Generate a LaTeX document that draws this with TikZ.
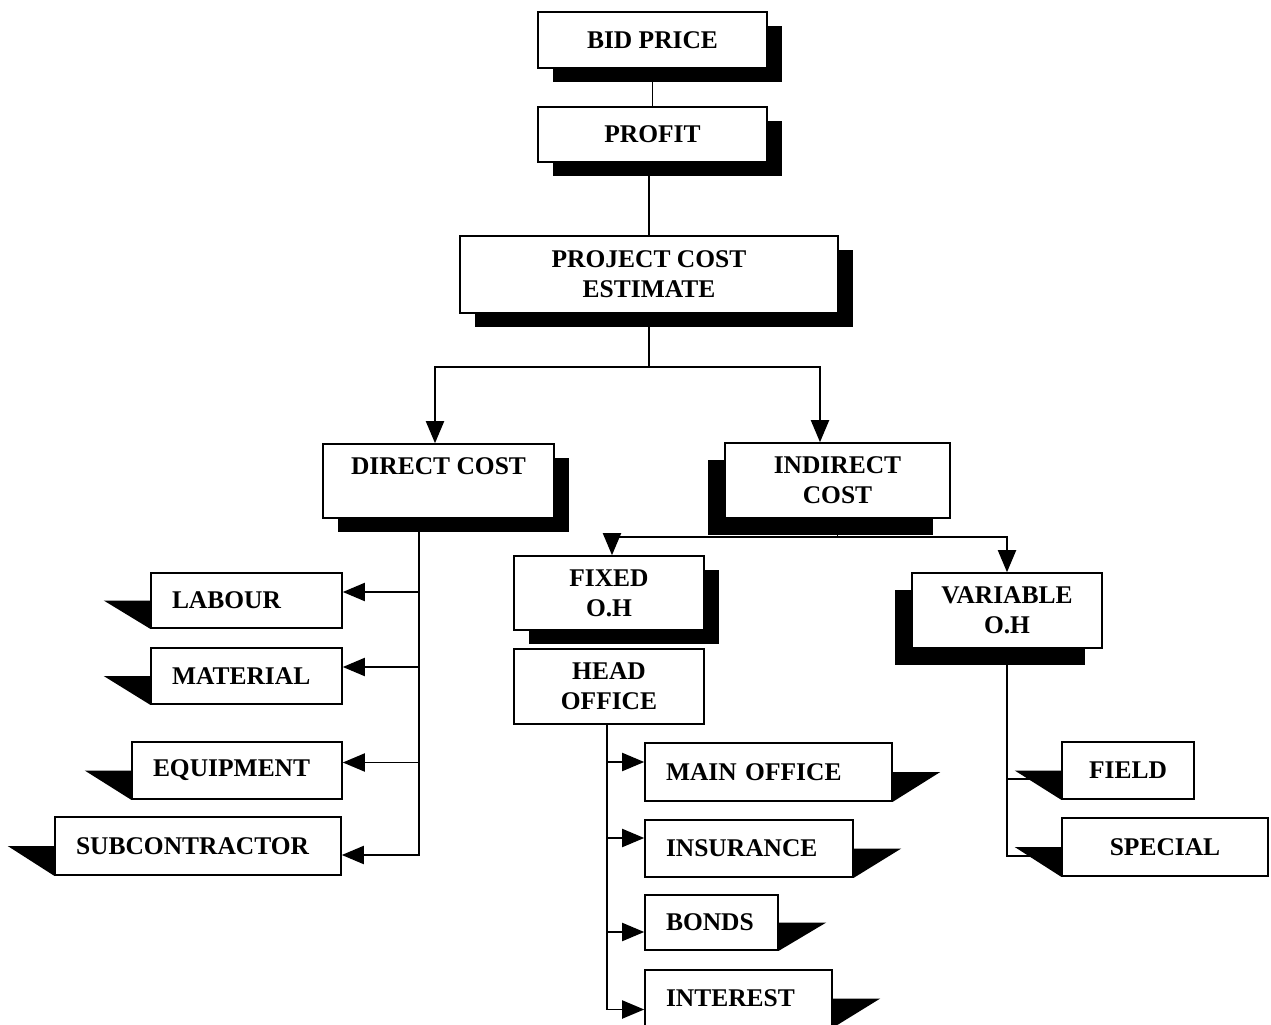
\documentclass[tikz,border=0pt]{standalone}
\usepackage{fontspec}
\setmainfont{Liberation Serif}
\usetikzlibrary{arrows.meta, shadows, backgrounds}

\begin{document}
\begin{tikzpicture}[
    box/.style={draw, line width=0.9pt, fill=white, align=center, inner sep=0pt,
      font=\bfseries\fontsize{14.5}{17}\selectfont},
    shadowr/.style={general shadow={fill=black, shadow xshift=0.3cm, shadow yshift=-0.28cm}},
    shadowl/.style={general shadow={fill=black, shadow xshift=-0.34cm, shadow yshift=-0.34cm}},
    leaf/.style={box, align=left, inner xsep=0.42cm},
    arr/.style={line width=1.1pt, -{Triangle[length=0.44cm, width=0.36cm]}},
    link/.style={line width=1.1pt}
  ]
  \useasboundingbox (0,0) rectangle (25.42,20.48);

  % top of the chart
  \node[box, shadowr, minimum width=4.58cm, minimum height=1.12cm] (bid) at (13.05,19.68) {BID PRICE};
  \node[box, shadowr, minimum width=4.58cm, minimum height=1.10cm] (profit) at (13.05,17.79) {PROFIT};
  \node[box, shadowr, minimum width=7.56cm, minimum height=1.54cm] (pce) at (12.98,14.99) {PROJECT COST\\ESTIMATE};

  % cost groups
  \node[box, shadowr, minimum width=4.62cm, minimum height=1.48cm] (direct) at (8.77,10.86) {DIRECT COST\\ \mbox{}};
  \node[box, shadowl, minimum width=4.5cm, minimum height=1.5cm] (indirect) at (16.75,10.87) {INDIRECT\\COST};
  \node[box, shadowr, minimum width=3.8cm, minimum height=1.48cm] (fixed) at (12.18,8.62) {FIXED\\O.H};
  \node[box, minimum width=3.8cm, minimum height=1.5cm] (head) at (12.18,6.75) {HEAD\\OFFICE};
  \node[box, shadowl, minimum width=3.8cm, minimum height=1.5cm] (variable) at (20.14,8.27) {VARIABLE\\O.H};

  % direct cost items
  \node[leaf, text width=2.98cm, minimum height=1.1cm] (labour) at (4.93,8.47) {LABOUR};
  \node[leaf, text width=2.98cm, minimum height=1.12cm] (material) at (4.93,6.96) {MATERIAL};
  \node[leaf, text width=3.36cm, minimum height=1.14cm] (equipment) at (4.74,5.07) {EQUIPMENT};
  \node[leaf, text width=4.88cm, minimum height=1.16cm] (subcon) at (3.96,3.56) {SUBCONTRACTOR};

  % head office items
  \node[leaf, text width=4.1cm, minimum height=1.16cm] (main) at (15.37,5.04) {MAIN OFFICE};
  \node[leaf, text width=3.32cm, minimum height=1.14cm] (insur) at (14.98,3.51) {INSURANCE};
  \node[leaf, text width=1.82cm, minimum height=1.1cm] (bonds) at (14.23,2.03) {BONDS};
  \node[leaf, text width=2.9cm, minimum height=1.14cm] (interest) at (14.77,0.51) {INTEREST};

  % variable items
  \node[box, minimum width=2.64cm, minimum height=1.14cm] (field) at (22.56,5.07) {FIELD};
  \node[box, minimum width=4.12cm, minimum height=1.16cm] (special) at (23.3,3.54) {SPECIAL};

  % wedge shadows
  \foreach \n in {labour, material, equipment, subcon, field, special}
    \fill (\n.west) -- ++(-0.93,0) -- (\n.south west) -- cycle;
  \foreach \n in {main, insur, bonds, interest}
    \fill (\n.east) -- ++(0.95,0) -- (\n.south east) -- cycle;

  \begin{scope}[on background layer]
    \draw[link] (bid) -- (profit);
    \draw[link] (profit.south -| pce.north) -- (pce.north);
    \coordinate (split) at (12.98,13.14);
    \draw[link] (pce.south) -- (split);
    \draw[arr] (split) -| ([xshift=-0.07cm]direct.north);
    \draw[arr] (split) -| ([xshift=-0.35cm]indirect.north);

    \coordinate (isplit) at (16.75,9.74);
    \draw[link] (indirect.south) -- (isplit);
    \draw[arr] (isplit) -| ([xshift=0.06cm]fixed.north);
    \draw[arr] (isplit) -| (variable.north);

    % direct cost branch
    \coordinate (dtrunk) at (8.38,10.12);
    \draw[arr] (dtrunk) |- ([yshift=0.17cm]labour.east);
    \draw[arr] (dtrunk) |- ([yshift=0.18cm]material.east);
    \draw[arr] (dtrunk) |- ([yshift=0.16cm]equipment.east);
    \draw[arr] (dtrunk) |- ([yshift=-0.18cm]subcon.east);

    % head office branch
    \coordinate (htrunk) at (12.14,6.0);
    \draw[arr] (htrunk) |- ([yshift=0.2cm]main.west);
    \draw[arr] (htrunk) |- ([yshift=0.21cm]insur.west);
    \draw[arr] (htrunk) |- ([yshift=-0.19cm]bonds.west);
    \draw[arr] (htrunk) |- ([yshift=-0.22cm]interest.west);

    % variable branch
    \draw[link] (variable.south) |- ([yshift=-0.17cm]field.west);
    \draw[link] (variable.south) |- ([yshift=-0.18cm]special.west);
  \end{scope}
\end{tikzpicture}
\end{document}
